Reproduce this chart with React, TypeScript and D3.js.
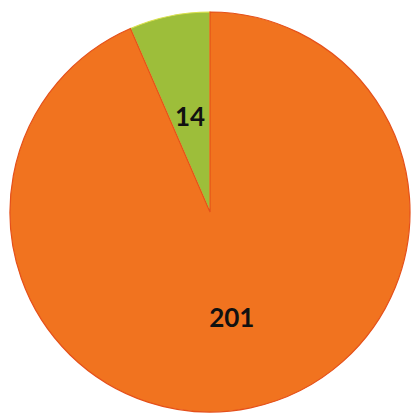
import React from "react";
import * as d3 from "d3";

const categories = ["A", "B"];
const values = [14, 201];
const colors = ["#9dbe3a", "#f1731f"];
const strokes = ["#d9e04a", "#e5501a"];
const labelRadiusFactor = [0.49, 0.535];

const W = 412;
const H = 419;
const cx = 210;
const cy = 212;
const R = 200;

export default function App() {
  // green slice sits just left of 12 o'clock: start the pie so it ends at 0
  const total = d3.sum(values);
  const greenAngle = (values[0] / total) * Math.PI * 2;
  const pie = d3
    .pie<number>()
    .sort(null)
    .value((d) => d)
    .startAngle(-greenAngle)
    .endAngle(Math.PI * 2 - greenAngle);
  const arcs = pie(values);
  const arc = d3.arc<d3.PieArcDatum<number>>().innerRadius(0).outerRadius(R);

  return (
    <svg
      width={W}
      height={H}
      style={{ position: "absolute", left: 0, top: 0, display: "block", background: "#fff" }}
    >
      <g transform={`translate(${cx},${cy})`}>
        {arcs.map((a, i) => (
          <path
            key={categories[i]}
            d={arc(a) || ""}
            fill={colors[i]}
            stroke={strokes[i]}
            strokeWidth={1.2}
          />
        ))}
        {arcs.map((a, i) => {
          const lr = R * labelRadiusFactor[i];
          const la = d3.arc<d3.PieArcDatum<number>>().innerRadius(lr).outerRadius(lr);
          const [x, y] = la.centroid(a);
          return (
            <text
              key={"t" + i}
              x={x}
              y={y}
              textAnchor="middle"
              dominantBaseline="central"
              fontFamily="Lato, 'Open Sans', sans-serif"
              fontWeight="bold"
              fontSize={26}
              fill="#111"
            >
              {values[i]}
            </text>
          );
        })}
      </g>
    </svg>
  );
}
